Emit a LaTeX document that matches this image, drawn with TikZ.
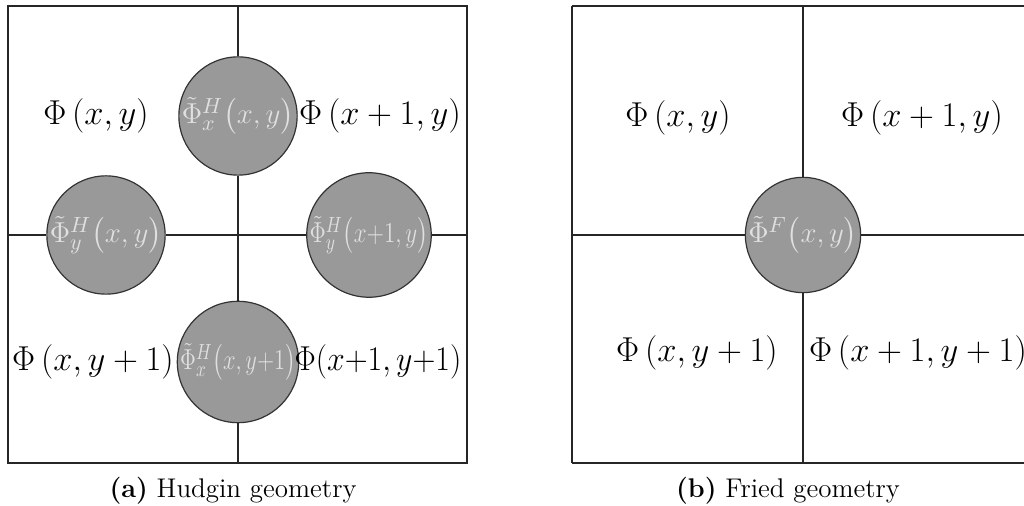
\documentclass[tikz,border=0pt]{standalone}
\usepackage{amsmath}
\usepackage{xcolor}
\usepackage{amsfonts}
\usepackage{amssymb}
\usepackage{graphicx}
\usepackage{tikz}
\usetikzlibrary{positioning}
\definecolor{lensgray}{rgb}{0.6,0.6,0.6}
\definecolor{lenstext}{rgb}{0.88,0.88,0.88}
\newcommand{\hsqz}[2]{\scalebox{#1}[1]{#2}}

\begin{document}
\begin{tikzpicture}[
    x=0.5pt, y=-0.5pt,
    grid/.style={draw=black!85, line width=1pt},
    lens/.style={circle, draw=black!80, fill=lensgray, line width=0.6pt, minimum size=56pt, inner sep=0pt, text=lenstext, font=\fontsize{15}{17}\selectfont},
    phase/.style={inner sep=0pt, font=\fontsize{18}{20}\selectfont},
    caption/.style={font=\fontsize{13.5}{15}\selectfont}
]
    \useasboundingbox (0,0) rectangle (1024,506);
    \clip (0,0) rectangle (1024,506);

    % (a) Hudgin
    \draw[grid] (8,6) rectangle (467,463);
    \coordinate (an) at (238,6);
    \coordinate (as) at (238,463);
    \coordinate (aw) at (8,235);
    \coordinate (ae) at (467,235);
    \node[lens] (h1) at (238,116) {$\tilde{\Phi}^H_x\bigl(x,y\bigr)$};
    \node[lens] (h2) at (106,235) {$\tilde{\Phi}^H_y\bigl(x,y\bigr)$};
    \node[lens] (h3) at (369,235) {\hsqz{0.8}{$\tilde{\Phi}^H_y\bigl(x{+}1,y\bigr)$}};
    \node[lens] (h4) at (238,362) {\hsqz{0.78}{$\tilde{\Phi}^H_x\bigl(x,y{+}1\bigr)$}};
    \draw[grid] (an) -- (h1);
    \draw[grid] (h1) -- (h4);
    \draw[grid] (h4) -- (as);
    \draw[grid] (aw) -- (h2);
    \draw[grid] (h2) -- (h3);
    \draw[grid] (h3) -- (ae);

    \node[phase] (p1) at (96,116) {$\Phi\left(x,y\right)$};
    \node[phase] (p2) at (380,116) {$\Phi\left(x+1,y\right)$};
    \node[phase] (p3) at (93,362) {$\Phi\left(x,y+1\right)$};
    \node[phase] (p4) at (378,362) {\hsqz{0.92}{$\Phi\!\left(x{+}1,y{+}1\right)$}};
    \node[caption] (ca) at (233,491) {\textbf{(a)} Hudgin geometry};

    % (b) Fried
    \draw[grid] (572,6) -- (1034,6);
    \draw[grid] (572,463) -- (1034,463);
    \draw[grid] (572,6) -- (572,463);
    \coordinate (bn) at (803,6);
    \coordinate (bs) at (803,463);
    \coordinate (bw) at (572,235);
    \coordinate (be) at (1034,235);
    \node[lens] (f1) at (803,235) {$\tilde{\Phi}^F\bigl(x,y\bigr)$};
    \draw[grid] (bn) -- (f1);
    \draw[grid] (f1) -- (bs);
    \draw[grid] (bw) -- (f1);
    \draw[grid] (f1) -- (be);

    \node[phase] (q1) at (678,118) {$\Phi\left(x,y\right)$};
    \node[phase] (q2) at (922,118) {$\Phi\left(x+1,y\right)$};
    \node[phase] (q3) at (697,353) {$\Phi\left(x,y+1\right)$};
    \node[phase] (q4) at (918,353) {$\Phi\left(x+1,y+1\right)$};
    \node[caption] (cb) at (788,491) {\textbf{(b)} Fried geometry};
\end{tikzpicture}
\end{document}
